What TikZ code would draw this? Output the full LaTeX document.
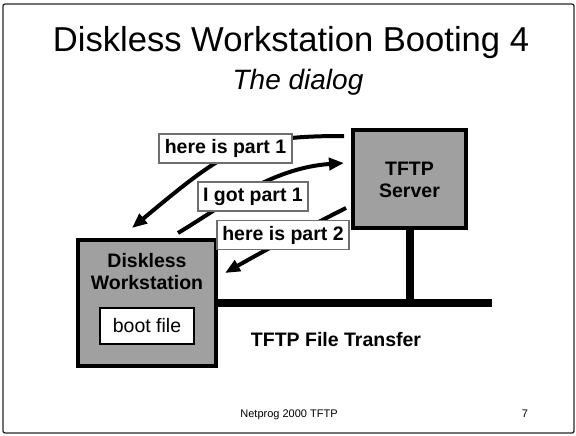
\documentclass[tikz,border=0pt]{standalone}
\usepackage{fontspec}
\setmainfont{Liberation Sans}
\usetikzlibrary{arrows.meta}
\definecolor{boxgray}{RGB}{160,160,160}
\definecolor{lblborder}{RGB}{110,110,110}
\tikzset{
  hostbox/.style={draw=black, line width=4pt, fill=boxgray, inner sep=0pt},
  bootbox/.style={draw=black, line width=2pt, fill=white, inner sep=0pt,
    minimum width=94pt, minimum height=36pt, font=\fontsize{19.5}{22}\selectfont},
  lbl/.style={draw=lblborder, line width=1.2pt, fill=white, inner sep=0pt,
    minimum height=29pt, font=\fontsize{19.5}{22}\selectfont\bfseries},
  boldtxt/.style={align=center, inner sep=0pt, font=\fontsize{19.5}{22.5}\selectfont\bfseries},
  msg/.style={line width=4pt, -{Triangle[length=15pt,width=12pt]}},
  wire/.style={line width=8pt}
}
\begin{document}
\begin{tikzpicture}[x=1pt,y=-1pt]
\useasboundingbox (0,0) rectangle (576,436);
% frame
\draw[line width=1.3pt, black!85, rounded corners=2pt] (3,4) rectangle (574,433);
% titles
\node[anchor=base, inner sep=0pt, font=\fontsize{34.6}{40}\selectfont] (title) at (291,52) {Diskless Workstation Booting 4};
\node[anchor=base, inner sep=0pt, font=\fontsize{28}{32}\selectfont\itshape] (subtitle) at (298,89) {The dialog};
% server
\node[hostbox, minimum width=113pt, minimum height=98pt] (server) at (409.5,179) {};
\node[boldtxt] (servertxt) at (409.5,180) {TFTP\\Server};
% workstation
\node[hostbox, minimum width=138pt, minimum height=126pt] (ws) at (147,303) {};
\node[boldtxt] (wstxt) at (147,271.5) {Diskless\\Workstation};
\node[bootbox] (boot) at (147,326) {boot file};
% network
\coordinate (busL) at (216,303);
\coordinate (busR) at (492,303);
\coordinate (tap) at (410,303);
\draw[wire] (busL) -- (busR);
\draw[wire] (server.south -| tap) -- (tap);
\node[boldtxt] (xfer) at (336,340) {TFTP File Transfer};
% arrows
\coordinate (a1s) at (344,136);
\coordinate (a1e) at (132,228);
\coordinate (a2s) at (178,233);
\coordinate (a2e) at (344,163);
\coordinate (a3s) at (346,208);
\coordinate (a3e) at (225,273);
\draw[msg] (a1s) .. controls (245,136) and (228,148) .. (a1e);
\draw[msg] (a2s) .. controls (220,208) and (270,168) .. (a2e);
\draw[msg] (a3s) .. controls (310,226) and (260,253) .. (a3e);
% labels
\node[lbl, minimum width=133pt] (l1) at (225.5,148.5) {here is part 1};
\node[lbl, minimum width=110pt] (l2) at (253,196.5) {I got part 1};
\node[lbl, minimum width=132pt] (l3) at (283,235) {here is part 2};
% footer
\node[anchor=base, inner sep=0pt, font=\fontsize{11}{13}\selectfont] (foot) at (289,417) {Netprog 2000 TFTP};
\node[anchor=base, inner sep=0pt, font=\fontsize{11}{13}\selectfont] (page) at (525,417) {7};
\end{tikzpicture}
\end{document}
